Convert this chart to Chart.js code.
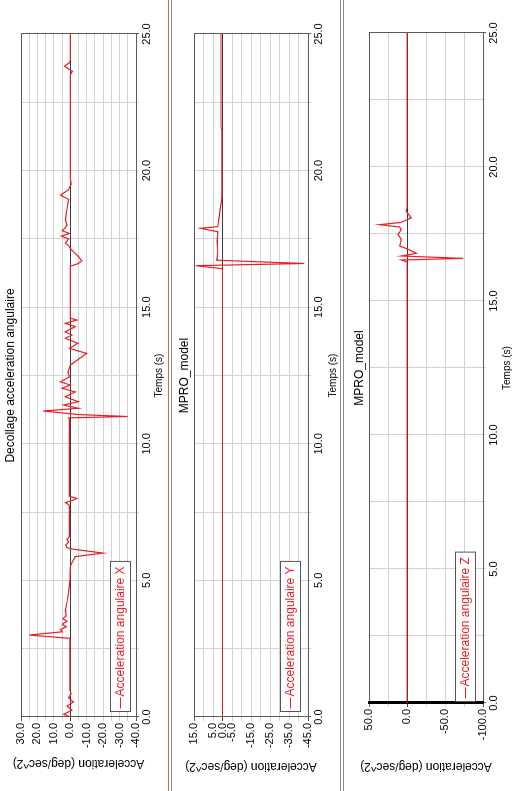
<!DOCTYPE html>
<html>
<head>
<meta charset="utf-8">
<script src="https://cdn.jsdelivr.net/npm/chart.js@4/dist/chart.umd.min.js"></script>
<style>
  html, body { margin: 0; padding: 0; background: #fff; overflow: hidden; width: 512px; height: 791px; }
  /* the three plots are laid out side by side on a landscape sheet, then the sheet is turned a quarter turn */
  #sheet { position: absolute; left: 0; top: 0; width: 791px; height: 512px; background: #fff;
           transform-origin: 0 0; transform: translate(0px, 791px) rotate(-90deg); }
  #sheet canvas { position: absolute; left: 0; }
  .rule { position: absolute; }
</style>
</head>
<body>
<div id="sheet">
  <canvas id="plotX" width="791" height="168" style="top:0px"></canvas>
  <canvas id="plotY" width="791" height="169" style="top:171px"></canvas>
  <canvas id="plotZ" width="791" height="167" style="top:345px"></canvas>
  <!-- separators between the three plot windows -->
  <div class="rule" style="left:0;top:168px;width:791px;height:1px;background:#d8605c"></div>
  <div class="rule" style="left:0;top:171px;width:791px;height:1px;background:#8c8c8c"></div>
  <div class="rule" style="left:0;top:340px;width:791px;height:1px;background:#8c8c8c"></div>
  <div class="rule" style="left:0;top:343px;width:791px;height:1px;background:#8c8c8c"></div>
</div>
<script>
// ---- time axis (s) ----
const timeTickLabels = [0, 5, 10, 15, 20, 25];

// ---- Acceleration angulaire X (deg/sec^2) ----
const timeX = [
  0, 0.1, 0.25, 0.4, 0.55, 0.7, 0.85, 1.0, 2.0, 2.88,
  3.0, 3.12, 3.2, 3.3, 3.4, 3.5, 3.6, 3.7, 3.9, 4.2,
  4.5, 5.0, 5.5, 5.65, 5.87, 6.0, 6.15, 6.2, 6.3, 6.4,
  6.5, 6.6, 7.0, 7.75, 7.85, 7.92, 8.0, 8.08, 9.0, 10.9,
  10.95, 11.0, 11.07, 11.2, 11.3, 11.42, 11.54, 11.72, 11.9, 12.03,
  12.15, 12.27, 12.45, 12.6, 12.88, 13.31, 13.49, 13.68, 13.86, 13.98,
  14.1, 14.29, 14.41, 14.53, 14.6, 15.5, 16.5, 16.6, 16.7, 16.85,
  17.0, 17.15, 17.25, 17.35, 17.5, 17.6, 17.7, 17.8, 17.9, 18.0,
  18.2, 18.4, 18.6, 18.8, 18.95, 19.1, 19.3, 19.5, 19.7, 22.0,
  23.5, 23.63, 23.82, 23.95, 24.05, 25
];
const accelX = [
  0, 4, -1, 2, -2, 1, -0.5, 0.3, 0.3, 0.3,
  25, 5, 6, 2.5, 5, 2, 4.5, 2.5, 3, 2,
  1.2, 0.3, 0, -1, -3, -20, -1, 2, 2.8, 1,
  2, 0.5, 0.5, 0.5, 3, -1, -4, 0.5, 0.5, 0.5,
  1, -35, -5, 16.5, -5, 4, -5, 3, -3, 5,
  0, 6, 0.5, 1.5, 0, -10, 0.5, -4.5, 3, -1,
  3, -3, 3, -4, 0, 0, 0, -5, -7, -5,
  -2.5, 0, 1, 3, 1, 5.5, 0.5, 5, 3, 2,
  3, 2.5, 2, 1.5, 1, 6, 1, -0.5, 0, 0,
  0, -1.3, 3.5, 0.5, 0, 0
];
const valueTicksX = [30, 20, 10, 0, -10, -20, -30, -40];

// ---- Acceleration angulaire Y (deg/sec^2) ----
const timeY  = [0, 16.41, 16.52, 16.6, 16.72, 17.0, 17.4, 17.76, 17.89, 17.95, 18.3, 18.7, 19.0, 21.5, 21.6, 25];
const accelY = [0, 0, 14, -43, 3, 2.5, 2.8, 2.5, 11.5, 2.5, 1.8, 1, 0.3, 0.3, 0.8, 0.8];
const valueTicksY = [15, 5, 0, -5, -15, -25, -35, -45];

// ---- Acceleration angulaire Z (deg/sec^2) ----
const timeZ  = [0, 16.46, 16.53, 16.59, 16.68, 16.78, 16.93, 17.05, 17.3, 17.48, 17.66, 17.76, 17.85, 17.93, 18.1, 18.35, 18.5, 25];
const accelZ = [0, 0, 7.4, -74, 7.4, -12.3, -1.5, 9.6, 7.5, 11.8, 7.5, 9.6, 36, 8, -5.7, 1, 0, 0];
const valueTicksZ = [50, 0, -50, -100];

const FONT = '"Liberation Sans", Arial, Helvetica, sans-serif';
const RED = '#e81e25';
const GRID = '#d2d2d2';
const FRAME = '#5a5a5a';

const near = (list, v) => list.some(t => Math.abs(t - v) < 1e-6);

// boxed legend drawn in the lower-left corner of the plot area
const insideLegend = {
  id: 'insideLegend',
  afterDatasetsDraw(chart, args, opts) {
    const { ctx, chartArea } = chart;
    const ds = chart.data.datasets[0];
    ctx.save();
    ctx.font = '12px ' + FONT;
    const dash = 11, h = 20;
    const w = 3 + dash + 1 + ctx.measureText(ds.label).width + 5;
    const x = Math.round(chartArea.left + opts.dx) + 0.5;
    const y = Math.round(chartArea.bottom - opts.dy - h) + 0.5;
    ctx.fillStyle = '#fff';
    ctx.fillRect(x, y, w, h);
    ctx.strokeStyle = '#555';
    ctx.lineWidth = 1;
    ctx.strokeRect(x, y, w, h);
    ctx.strokeStyle = ds.borderColor;
    ctx.beginPath();
    ctx.moveTo(x + 3, y + h / 2);
    ctx.lineTo(x + 3 + dash, y + h / 2);
    ctx.stroke();
    ctx.fillStyle = ds.borderColor;
    ctx.textBaseline = 'middle';
    ctx.fillText(ds.label, x + 4 + dash, y + h / 2 + 0.5);
    ctx.restore();
  }
};

function makePlot(id, p) {
  const canvas = document.getElementById(id);
  const H = canvas.height;
  return new Chart(canvas, {
    type: 'line',
    data: {
      datasets: [{
        label: p.label,
        data: p.t.map((t, i) => ({ x: t, y: p.v[i] })),
        borderColor: RED,
        borderWidth: 1.2,
        pointRadius: 0,
        tension: 0,
        fill: false
      }]
    },
    plugins: [insideLegend],
    options: {
      responsive: false,
      animation: false,
      events: [],
      layout: { padding: { left: 0, right: 791 - p.right, top: 0, bottom: 0 } },
      plugins: {
        legend: { display: false },
        tooltip: { enabled: false },
        title: {
          display: true, text: p.title, color: '#000', fullSize: false,
          font: { family: FONT, size: 12, weight: 'normal', lineHeight: 1.2 },
          padding: { top: p.titleMid - 7.2, bottom: p.top - p.titleMid - 7.2 }
        },
        insideLegend: { dx: p.legendDx, dy: p.legendDy }
      },
      scales: {
        x: {
          type: 'linear', position: 'bottom', min: 0, max: 25,
          afterFit: s => { s.height = H - p.bottom; },
          ticks: {
            stepSize: 2.5, autoSkip: false, maxRotation: 0, minRotation: 0, padding: 1,
            color: '#000', font: { family: FONT, size: 11 },
            callback: v => near(timeTickLabels, v) ? v.toFixed(1) : ''
          },
          grid: {
            tickLength: 3,
            color: c => (c.tick && (near([0, 25], c.tick.value))) ? FRAME : GRID
          },
          border: { color: FRAME, width: 1 },
          title: {
            display: true, text: 'Temps (s)', color: '#000',
            font: { family: FONT, size: 10, lineHeight: 1.2 },
            padding: { top: 0, bottom: p.xTitleFromBottom - 6 }
          }
        },
        y: {
          type: 'linear', position: 'left', min: p.min, max: p.max,
          afterFit: s => { s.width = p.left; },
          ticks: {
            stepSize: p.step, autoSkip: false, padding: 2,
            color: '#000', font: { family: FONT, size: 11 },
            callback: v => near(p.labels, v) ? v.toFixed(1) : ''
          },
          grid: {
            tickLength: 4,
            color: c => {
              const v = c.tick ? c.tick.value : NaN;
              if (Math.abs(v) < 1e-9) return '#3a3a3a';
              if (near([p.min, p.max], v)) return FRAME;
              return GRID;
            }
          },
          border: { color: p.axisColor, width: p.axisWidth },
          title: {
            display: true, text: 'Acceleration (deg/sec^2)', color: '#000',
            font: { family: FONT, size: 12, lineHeight: 1.2 },
            padding: { top: p.yTitleMid - 7.2, bottom: 0 }
          }
        }
      }
    }
  });
}

makePlot('plotX', {
  label: 'Acceleration angulaire X', title: 'Decollage acceleration angulaire',
  t: timeX, v: accelX, min: -40, max: 30, step: 5, labels: valueTicksX,
  left: 74, right: 757, top: 21, bottom: 136, titleMid: 11, xTitleFromBottom: 9, yTitleMid: 27.5,
  legendDx: 5, legendDy: 6, axisColor: FRAME, axisWidth: 1
});
makePlot('plotY', {
  label: 'Acceleration angulaire Y', title: 'MPRO_model',
  t: timeY, v: accelY, min: -45, max: 15, step: 5, labels: valueTicksY,
  left: 74, right: 757, top: 23, bottom: 137, titleMid: 14, xTitleFromBottom: 7, yTitleMid: 25,
  legendDx: 5, legendDy: 8, axisColor: FRAME, axisWidth: 1
});
makePlot('plotZ', {
  label: 'Acceleration angulaire Z', title: 'MPRO_model',
  t: timeZ, v: accelZ, min: -100, max: 50, step: 25, labels: valueTicksZ,
  left: 88, right: 758, top: 24, bottom: 138, titleMid: 15, xTitleFromBottom: 5, yTitleMid: 24.5,
  legendDx: 1, legendDy: 8, axisColor: '#000', axisWidth: 3
});
</script>
</body>
</html>
